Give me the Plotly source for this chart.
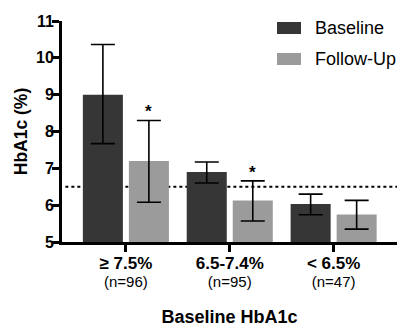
import plotly.graph_objects as go

categories = ["≥ 7.5%", "6.5-7.4%", "< 6.5%"]
counts = ["(n=96)", "(n=95)", "(n=47)"]
baseline_mean = [9.0, 6.9, 6.03]
baseline_upper = [10.36, 7.17, 6.30]
baseline_lower = [7.67, 6.60, 5.74]
followup_mean = [7.2, 6.13, 5.75]
followup_upper = [8.30, 6.66, 6.13]
followup_lower = [6.08, 5.57, 5.35]
significant = [True, True, False]
reference_line = 6.5
y_ticks = [5, 6, 7, 8, 9, 10, 11]

FONT = "Liberation Sans, Arial, sans-serif"
DARK = "#363636"
LIGHT = "#9b9b9b"

x = list(range(len(categories)))

def err(mean, upper, lower):
    return dict(type="data", symmetric=False,
                array=[u - m for u, m in zip(upper, mean)],
                arrayminus=[m - l for m, l in zip(mean, lower)],
                color="black", thickness=1.6, width=12)

fig = go.Figure()
fig.add_trace(go.Bar(x=x, y=baseline_mean, name="Baseline", marker=dict(color=DARK, line=dict(width=0)),
                     error_y=err(baseline_mean, baseline_upper, baseline_lower)))
fig.add_trace(go.Bar(x=x, y=followup_mean, name="Follow-Up", marker=dict(color=LIGHT, line=dict(width=0)),
                     error_y=err(followup_mean, followup_upper, followup_lower)))

ticktext = [f"<b><span style='font-size:17px'>{c}</span></b><br><span style='font-size:15px'>{n}</span>"
            for c, n in zip(categories, counts)]

fig.add_shape(type="line", xref="paper", yref="y", x0=0.01, x1=1, y0=reference_line, y1=reference_line,
              line=dict(color="black", width=2, dash="dot"), layer="below")

# asterisks over follow-up bars
for i, s in enumerate(significant):
    if s:
        fig.add_annotation(x=i + 0.221, y=followup_upper[i], yshift=-3, yanchor="bottom",
                           text="<b>*</b>", showarrow=False, font=dict(family=FONT, size=17, color="black"))

# manual legend (pixel positions relative to plot area: top=21, height=221, left=62, width=335)
legend_items = [("Baseline", DARK), ("Follow-Up", LIGHT)]
for k, (name, col) in enumerate(legend_items):
    yc = 28 + 31 * k
    fig.add_shape(type="rect", xref="paper", yref="paper",
                  x0=(277 - 62) / 335, x1=(301 - 62) / 335,
                  y0=(242 - yc - 6) / 221, y1=(242 - yc + 6) / 221,
                  fillcolor=col, line=dict(width=0))
    fig.add_annotation(xref="paper", yref="paper", x=(313 - 62) / 335, y=(242 - yc) / 221,
                       xanchor="left", yanchor="middle", text=name, showarrow=False,
                       font=dict(family=FONT, size=18, color="black"))

fig.update_layout(
    width=412, height=334,
    margin=dict(l=62, r=15, t=21, b=92),
    paper_bgcolor="white", plot_bgcolor="white",
    barmode="group", bargap=0.114, bargroupgap=0.13,
    showlegend=False,
    font=dict(family=FONT, color="black"),
    xaxis=dict(
        tickmode="array", tickvals=x, ticktext=ticktext,
        range=[-0.615, 2.61], automargin=False,
        showline=True, linecolor="black", linewidth=3,
        ticks="outside", ticklen=7, tickwidth=3, tickcolor="black",
        tickfont=dict(family=FONT, size=14, color="black"),
        showgrid=False, zeroline=False,
        title=dict(text="<b>Baseline HbA1c</b>", font=dict(family=FONT, size=18, color="black"), standoff=22),
    ),
    yaxis=dict(
        range=[5, 11], tickmode="array", tickvals=y_ticks, automargin=False,
        ticktext=[f"<b>{v}</b>" for v in y_ticks],
        showline=True, linecolor="black", linewidth=3,
        ticks="outside", ticklen=7, tickwidth=3, tickcolor="black",
        tickfont=dict(family=FONT, size=16, color="black"),
        ticklabelstandoff=-5,
        showgrid=False, zeroline=False,
        title=dict(text="<b>HbA1c (%)</b>", font=dict(family=FONT, size=17.5, color="black"), standoff=4),
    ),
)

fig.write_html("out.html")
